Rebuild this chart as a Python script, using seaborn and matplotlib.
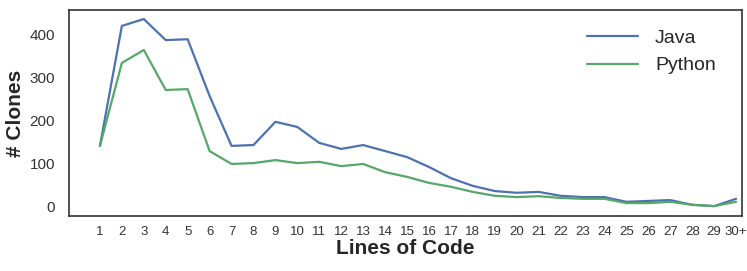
import matplotlib
matplotlib.use("Agg")
import matplotlib.pyplot as plt
import seaborn as sns
import pandas as pd

categories = [str(i) for i in range(1, 30)] + ["30+"]
java = [142, 421, 437, 388, 390, 258, 142, 144, 198, 186, 149, 135, 144, 130, 116,
        93, 67, 49, 37, 33, 35, 26, 23, 23, 12, 14, 16, 5, 2, 19]
python = [142, 335, 365, 272, 274, 130, 100, 102, 109, 102, 105, 95, 100, 81, 70,
          56, 47, 35, 26, 23, 25, 21, 19, 19, 9, 9, 12, 5, 2, 12]

sns.set_theme(style="white")
plt.rcParams['font.family'] = ['Liberation Sans', 'DejaVu Sans']

df = pd.DataFrame({
    "loc": categories * 2,
    "pos": list(range(len(categories))) * 2,
    "clones": java + python,
    "lang": ["Java"] * len(java) + ["Python"] * len(python),
})

fig = plt.figure(figsize=(7.47, 2.71), dpi=100)
ax = fig.add_axes([69/747, 1 - 216/271, (742-69)/747, (216-10)/271])
sns.lineplot(data=df, x="pos", y="clones", hue="lang", ax=ax, linewidth=1.6,
             palette=["#4C72B0", "#55A868"])

ax.set_xticks(range(len(categories)))
ax.set_xticklabels(categories, fontsize=9.5, color="#333333")
ax.set_xlim(-1.41, 29.27)
ax.set_ylim(-21, 458)
ax.set_yticks([0, 100, 200, 300, 400])
ax.tick_params(axis='y', labelsize=11, pad=4, labelcolor="#333333")
ax.tick_params(axis='x', pad=1)
ax.set_xlabel("Lines of Code", fontsize=15, fontweight="bold", labelpad=1, color="#262626")
ax.set_ylabel("# Clones", fontsize=15, fontweight="bold", labelpad=3, color="#262626")
for s in ax.spines.values():
    s.set_color("#333333")
    s.set_linewidth(1.2)
leg = ax.legend(frameon=False, fontsize=14, loc="upper right", handlelength=2.6,
                borderaxespad=0.6, labelspacing=0.5, handletextpad=0.9,
                bbox_to_anchor=(0.99, 1.0))
leg.set_title(None)

fig.savefig("out.png", dpi=100)
